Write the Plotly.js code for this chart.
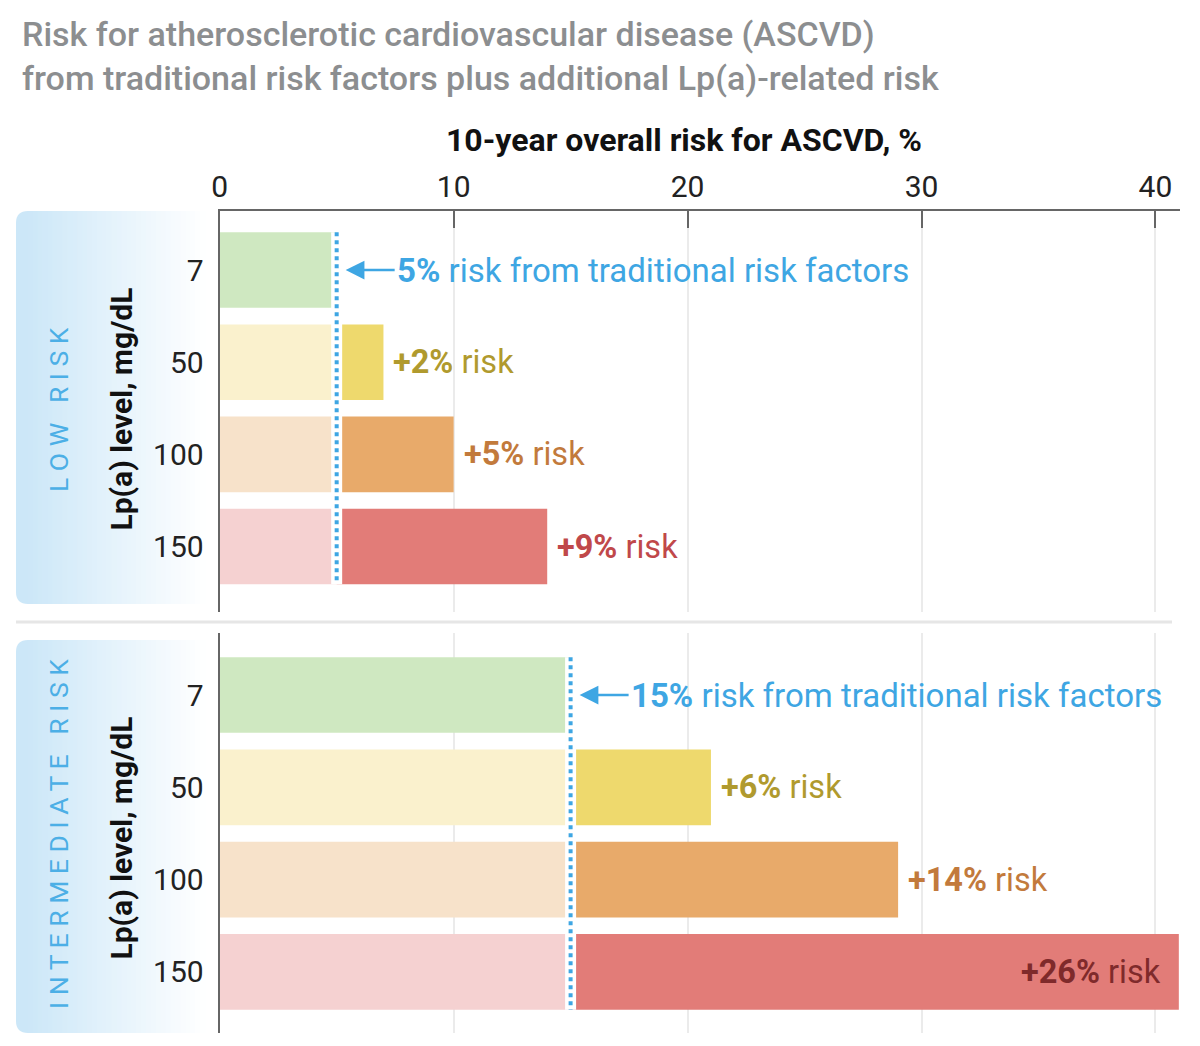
<!DOCTYPE html>
<html>
<head>
<meta charset="utf-8">
<script src="https://cdn.plot.ly/plotly-3.0.1.min.js"></script>
<style>body{margin:0;background:#fff}#graph{width:1200px;height:1046px}</style>
</head>
<body>
<div id="graph"></div>
<script>
// Lp(a) levels, mg/dL
var lpaLevels = ['7', '50', '100', '150'];
// 10-year risk from traditional risk factors, %
var lowBase = 5;
var intBase = 15;
// additional Lp(a)-related risk, %
var lowAdded = [0, 2, 5, 9];
var intAdded = [0, 6, 14, 26];
var xTicks = [0, 10, 20, 30, 40];

var lightColors = ['#cfe8c1', '#faf1cd', '#f7e2ca', '#f5d1d1'];
var darkColors = ['#cfe8c1', '#eed96d', '#e8aa6a', '#e27c78'];
var labelColors = ['#3ea6e3', '#b09a2e', '#c27a3c', '#c0484a'];
var blue = '#3ea6e3';
var font = 'Roboto, sans-serif';
var W = 1200, H = 1046;
function px(x){ return x / W; }
function py(y){ return 1 - y / H; }

var data = [];
var shapes = [];
var annotations = [];

//barres d'un panneau
var panel = function(base, added, xa, ya){
	data.push({
		type: 'bar', orientation: 'h', y: lpaLevels,
		x: lpaLevels.map(function(){ return base; }),
		xaxis: xa, yaxis: ya, width: 0.82,
		marker: {color: lightColors, line: {width: 0}},
		hoverinfo: 'skip', showlegend: false
	});
	data.push({
		type: 'bar', orientation: 'h', y: lpaLevels, x: added, base: base,
		xaxis: xa, yaxis: ya, width: 0.82,
		marker: {color: darkColors, line: {width: 0}},
		hoverinfo: 'skip', showlegend: false
	});

	// white gap + dotted baseline
	shapes.push({type: 'line', xref: xa, yref: ya, x0: base, x1: base, y0: -0.41, y1: 3.41,
		line: {color: '#ffffff', width: 11}});
	shapes.push({type: 'line', xref: xa, yref: ya, x0: base, x1: base, y0: -0.41, y1: 3.41,
		line: {color: blue, width: 4, dash: 'dot'}});

	// y given as category index (names like '7' would be read as positions)
	annotations.push({
		xref: xa, yref: ya, x: base, y: 0,
		ax: 58, ay: 0, xanchor: 'left', yanchor: 'middle', standoff: 9,
		showarrow: true, arrowhead: 2, arrowsize: 1.5, arrowwidth: 2.5, arrowcolor: blue,
		text: '<b>' + base + '%</b> risk from traditional risk factors',
		font: {family: font, size: 33, color: blue}
	});

	for (var i = 1; i < lpaLevels.length; i++){
		var end = base + added[i];
		var inside = end > 35;
		annotations.push({
			xref: xa, yref: ya, x: end, y: i,
			xanchor: inside ? 'right' : 'left', yanchor: 'middle', xshift: inside ? -16 : 8,
			showarrow: false,
			text: '<b>+' + added[i] + '%</b> risk',
			font: {family: font, size: 32.5, color: inside ? '#7f2a2b' : labelColors[i]}
		});
	}
};

panel(lowBase, lowAdded, 'x', 'y');
panel(intBase, intAdded, 'x2', 'y2');

// side label boxes with a fading blue
var sideBox = function(top, bottom, label, yc){
	var x0 = 16, x1 = 205, r = 12, n = 36;
	var c0 = [204, 231, 248];
	var col = function(t){
		return 'rgb(' + c0.map(function(c){ return Math.round(c + (255 - c) * t); }).join(',') + ')';
	};
	var rx = r / W, ry = r / H;
	var L = px(x0), R = px(x0 + r + 2), T = py(top), B = py(bottom);
	shapes.push({type: 'path', xref: 'paper', yref: 'paper', layer: 'below',
		path: 'M' + R + ',' + T + ' L' + (L + rx) + ',' + T + ' Q' + L + ',' + T + ' ' + L + ',' + (T - ry) +
			' L' + L + ',' + (B + ry) + ' Q' + L + ',' + B + ' ' + (L + rx) + ',' + B + ' L' + R + ',' + B + ' Z',
		fillcolor: col(0), line: {width: 0}});
	var sx = x0 + r;
	var w = (x1 - sx) / n;
	for (var i = 0; i < n; i++){
		shapes.push({type: 'rect', xref: 'paper', yref: 'paper', layer: 'below',
			x0: px(sx + i * w), x1: px(sx + (i + 1) * w + 1), y0: B, y1: T,
			fillcolor: col((i + 0.5) / n), line: {width: 0}});
	}
	annotations.push({xref: 'paper', yref: 'paper', x: px(58), y: py(yc), xanchor: 'center', yanchor: 'middle',
		textangle: -90, showarrow: false, text: label, font: {family: font, size: 26.5, color: '#4cafe6'}});
	annotations.push({xref: 'paper', yref: 'paper', x: px(121), y: py((top + bottom) / 2 + 2), xanchor: 'center', yanchor: 'middle',
		textangle: -90, showarrow: false, text: 'Lp(a) level, mg/dL',
		font: {family: font, size: 30, color: '#111', weight: 'bold'}});
};

sideBox(211, 604, 'L O W&nbsp;&nbsp; R I S K', 410);
sideBox(640, 1033, 'I N T E R M E D I A T E&nbsp;&nbsp; R I S K', 834);

shapes.push({type: 'line', xref: 'paper', yref: 'paper', x0: px(16), x1: px(1172), y0: py(622), y1: py(622),
	line: {color: '#e6e6e6', width: 3}});

annotations.push({xref: 'paper', yref: 'paper', x: px(20), y: py(56), xanchor: 'left', yanchor: 'middle', align: 'left',
	showarrow: false,
	text: 'Risk for atherosclerotic cardiovascular disease (ASCVD)<br>from traditional risk factors plus additional Lp(a)-related risk',
	font: {family: font, size: 34, color: '#8c8e90', weight: 500}});
annotations.push({xref: 'paper', yref: 'paper', x: px(684), y: py(140), xanchor: 'center', yanchor: 'middle', showarrow: false,
	text: '10-year overall risk for ASCVD, %',
	font: {family: font, size: 32, color: '#111', weight: 'bold'}});

var xBase = {
	domain: [px(219.7), px(1180)], range: [0, 41.05], tickvals: xTicks,
	showgrid: true, gridcolor: '#ebebeb', gridwidth: 1.5, zeroline: false, fixedrange: true
};
var layout = {
	width: W, height: H,
	margin: {l: 0, r: 0, t: 0, b: 0},
	paper_bgcolor: '#ffffff', plot_bgcolor: 'rgba(0,0,0,0)',
	barmode: 'overlay', showlegend: false,
	font: {family: font},
	xaxis: Object.assign({}, xBase, {
		anchor: 'y', side: 'top', ticks: 'inside', ticklen: 17, tickwidth: 2, tickcolor: '#666',
		showline: true, linecolor: '#666', linewidth: 2,
		tickfont: {family: font, size: 30, color: '#222'}
	}),
	xaxis2: Object.assign({}, xBase, {
		anchor: 'y2', matches: 'x', showticklabels: false, ticks: '', showline: false
	}),
	yaxis: {
		domain: [py(612), py(211)], anchor: 'x', type: 'category', range: [3.71, -0.64],
		showline: true, linecolor: '#666', linewidth: 2, ticks: '', showgrid: false,
		ticklabelstandoff: 8, tickfont: {family: font, size: 30, color: '#222'}, fixedrange: true
	},
	yaxis2: {
		domain: [py(1033), py(633)], anchor: 'x2', type: 'category', range: [3.662, -0.672],
		showline: true, linecolor: '#666', linewidth: 2, ticks: '', showgrid: false,
		ticklabelstandoff: 8, tickfont: {family: font, size: 30, color: '#222'}, fixedrange: true
	},
	shapes: shapes,
	annotations: annotations
};

Plotly.newPlot('graph', data, layout, {displayModeBar: false});
</script>
</body>
</html>
